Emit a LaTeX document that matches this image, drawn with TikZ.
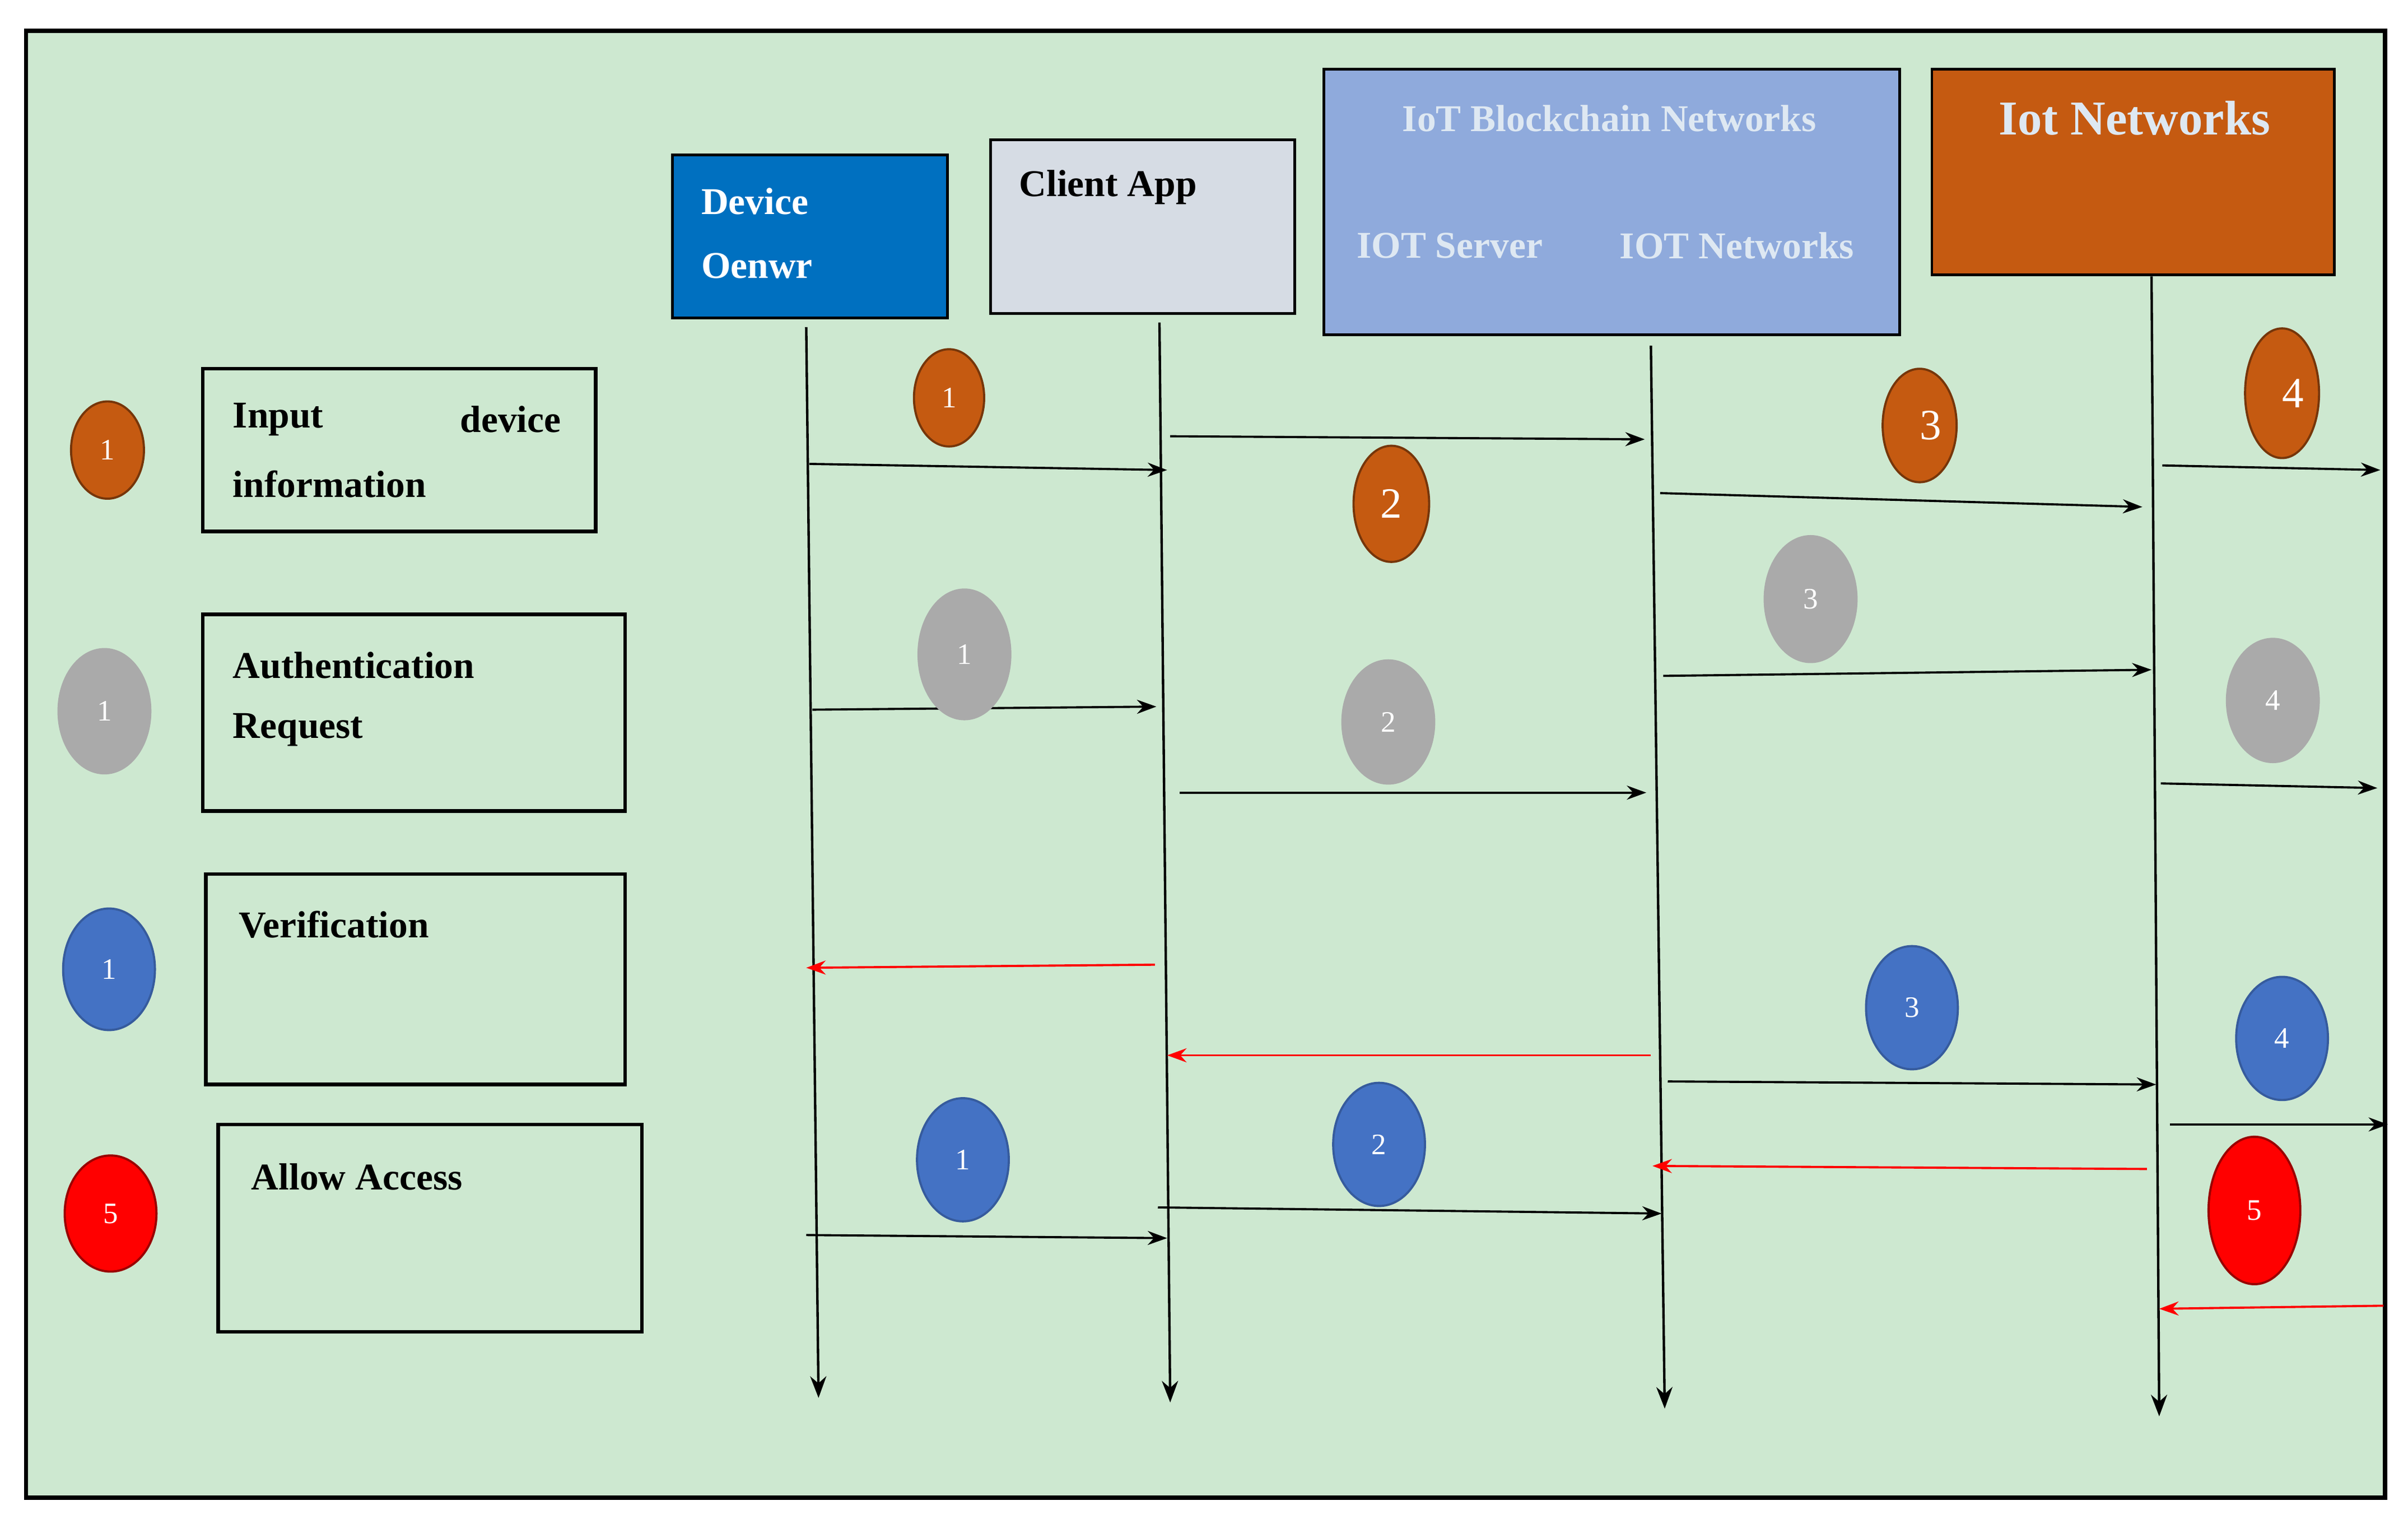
\documentclass[tikz,border=0pt]{standalone}
\usepackage{fontspec}
\setmainfont{Liberation Serif}
\usetikzlibrary{arrows.meta,shapes.geometric}
\definecolor{bg}{RGB}{205,232,208}
\definecolor{devblue}{RGB}{0,112,192}
\definecolor{cligray}{RGB}{214,220,228}
\definecolor{bcblue}{RGB}{143,170,220}
\definecolor{brownc}{RGB}{197,90,17}
\definecolor{grayc}{RGB}{170,170,170}
\definecolor{bluec}{RGB}{68,114,196}
\definecolor{lighttxt}{RGB}{222,232,242}
\begin{document}
\begin{tikzpicture}[x=0.01cm,y=-0.01cm,
  hdr/.style={draw=black,line width=0.5pt,inner sep=0pt},
  leg/.style={draw=black,line width=0.7pt},
  lt/.style={font=\bfseries\fontsize{7}{8}\selectfont,anchor=west,inner sep=0pt},
  num/.style={ellipse,draw,line width=0.4pt,text=white,font=\fontsize{5.5}{6}\selectfont,inner sep=0pt},
  br/.style={num,fill=brownc,draw=brownc!60!black},
  gr/.style={num,fill=grayc,draw=grayc},
  bl/.style={num,fill=bluec,draw=bluec!80!black},
  rd/.style={num,fill=red,draw=red!60!black},
  life/.style={line width=0.45pt,-{Stealth[length=4pt,width=3pt]}},
  ar/.style={line width=0.4pt,-{Stealth[length=3.6pt,width=2.6pt]}},
  ra/.style={ar,red}]
\useasboundingbox (0,0) rectangle (1568,992);
\fill[white] (0,0) rectangle (1568,992);
\draw[fill=bg,line width=0.8pt] (17,20) rectangle (1553,975);
% headers
\draw[hdr,fill=devblue] (438,101) rectangle (617,207);
\node[lt,text=white] (dev1) at (456,131) {Device};
\node[lt,text=white] (dev2) at (456,173) {Oenwr};
\draw[hdr,fill=cligray] (645,91) rectangle (843,204);
\node[lt] (cli) at (663,122) {Client App};
\draw[hdr,fill=bcblue] (862,45) rectangle (1237,218);
\node[lt,anchor=center,text=lighttxt] (bc) at (1048,77) {IoT Blockchain Networks};
\node[lt,anchor=center,text=lighttxt] (srv) at (944,160) {IOT Server};
\node[lt,anchor=center,text=lighttxt] (net) at (1131,160) {IOT Networks};
\draw[hdr,fill=brownc] (1258,45) rectangle (1520,179);
\node[font=\bfseries\fontsize{9}{10}\selectfont,text=lighttxt,inner sep=0pt] (iot) at (1390,77) {Iot Networks};
% lifelines
\draw[life] (525,213) coordinate (l1a) -- (533,910) coordinate (l1b);
\draw[life] (755,210) coordinate (l2a) -- (762,913) coordinate (l2b);
\draw[life] (1075,225) coordinate (l3a) -- (1084,917) coordinate (l3b);
\draw[life] (1401,180) coordinate (l4a) -- (1406,922) coordinate (l4b);
% legend
\node[br,minimum width=13.5pt,minimum height=18pt] (e0) at (70,293) {\raisebox{-3pt}{1}};
\draw[leg] (132,240) rectangle (388,346);
\node[lt] (t1) at (151,273) {Input};
\node[lt,anchor=east] (t1b) at (366,273) {device};
\node[lt] (t1c) at (151,315) {information};
\node[gr,minimum width=17pt,minimum height=23pt] (e1) at (68,463) {1};
\draw[leg] (132,400) rectangle (407,528);
\node[lt] (t2) at (151,433) {Authentication};
\node[lt] (t2b) at (151,475) {Request};
\node[bl,minimum width=17pt,minimum height=22.5pt] (e2) at (71,631) {1};
\draw[leg] (134,569) rectangle (407,706);
\node[lt] (t3) at (155,602) {Verification};
\node[rd,minimum width=17pt,minimum height=21.5pt] (e3) at (72,790) {5};
\draw[leg] (142,732) rectangle (418,867);
\node[lt] (t4) at (163,766) {Allow Access};
% brown row
\node[br,minimum width=13pt,minimum height=18pt] (b1) at (618,259) {1};
\draw[ar] (527,302) coordinate (m1a) -- (760,306) coordinate (m1b);
\draw[ar] (762,284) coordinate (m2a) -- (1071,286) coordinate (m2b);
\node[br,minimum width=14pt,minimum height=21.5pt,font=\fontsize{8}{8}\selectfont] (b2) at (906,328) {2};
\draw[ar] (1081,321) coordinate (m3a) -- (1395,330) coordinate (m3b);
\node[br,minimum width=13.7pt,minimum height=21pt,font=\fontsize{8}{8}\selectfont] (b3) at (1250,277) {\hspace*{4pt}3};
\node[br,minimum width=13.7pt,minimum height=24pt,font=\fontsize{8}{8}\selectfont] (b4) at (1486,256) {\hspace*{4pt}4};
\draw[ar] (1408,303) coordinate (m4a) -- (1550,306) coordinate (m4b);
% gray row
\draw[ar] (529,462) coordinate (g1a) -- (753,460) coordinate (g1b);
\node[gr,minimum width=17pt,minimum height=24pt] (g1) at (628,426) {1};
\node[gr,minimum width=17pt,minimum height=22.8pt] (g2) at (904,470) {2};
\draw[ar] (768,516) coordinate (g2a) -- (1072,516) coordinate (g2b);
\node[gr,minimum width=17pt,minimum height=23.3pt] (g3) at (1179,390) {3};
\draw[ar] (1083,440) coordinate (g3a) -- (1401,436) coordinate (g3b);
\node[gr,minimum width=17pt,minimum height=22.8pt] (g4) at (1480,456) {4};
\draw[ar] (1407,510) coordinate (g4a) -- (1548,513) coordinate (g4b);
% blue row
\draw[ra] (752,628) coordinate (r1a) -- (525,630) coordinate (r1b);
\draw[ra] (1075,687) coordinate (r2a) -- (760,687) coordinate (r2b);
\node[bl,minimum width=17pt,minimum height=22.8pt] (u3) at (1245,656) {3};
\draw[ar] (1086,704) coordinate (u3a) -- (1404,706) coordinate (u3b);
\node[bl,minimum width=17pt,minimum height=22.8pt] (u4) at (1486,676) {4};
\draw[ar] (1413,732) coordinate (u4a) -- (1555,732) coordinate (u4b);
\node[bl,minimum width=17pt,minimum height=22.8pt] (u1) at (627,755) {1};
\draw[ar] (525,804) coordinate (u1a) -- (760,806) coordinate (u1b);
\node[bl,minimum width=17pt,minimum height=22.8pt] (u2) at (898,745) {2};
\draw[ar] (754,786) coordinate (u2a) -- (1082,790) coordinate (u2b);
\draw[ra] (1398,761) coordinate (r3a) -- (1076,759) coordinate (r3b);
\node[rd,minimum width=17pt,minimum height=27.3pt] (x5) at (1468,788) {5};
\draw[ra] (1552,850) coordinate (r4a) -- (1406,852) coordinate (r4b);
\end{tikzpicture}
\end{document}
